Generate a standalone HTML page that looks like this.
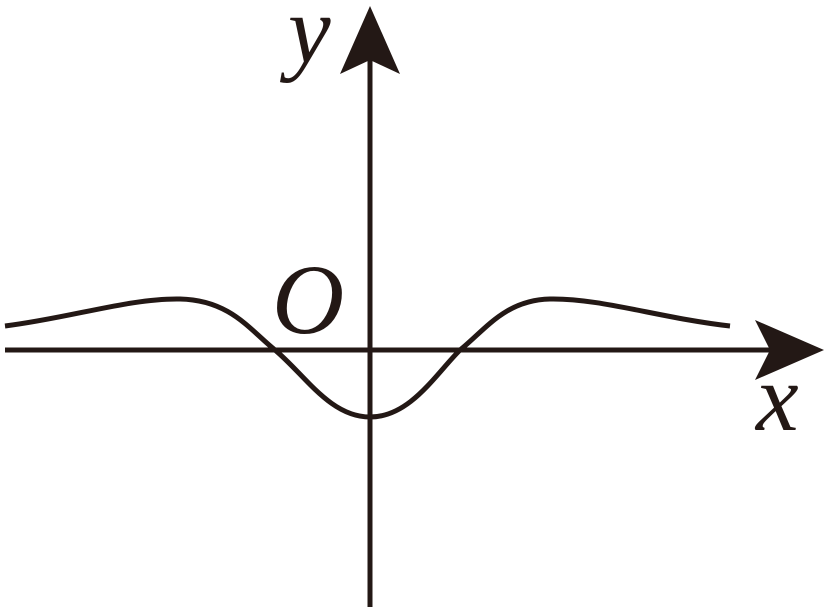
<!DOCTYPE html>
<html><head><style>html,body{margin:0;padding:0;background:#fff}svg{display:block}</style></head><body>
<svg width="826" height="614" viewBox="0 0 826 614" xmlns="http://www.w3.org/2000/svg">
<g stroke="#231815" stroke-width="5" fill="none">
<line x1="370" y1="60" x2="370" y2="607"/>
<line x1="5" y1="350" x2="770" y2="350"/>
<path d="M5,326 C70,318 130,298 180,299 C230,300 250,330 275,350 C305,375 330,417 370,417 C410,417 435,375 460,350 C485,330 505,300 550,299 C600,298 660,318 730,326"/>
</g>
<path d="M370,6 L400,74 L370,60 L340,74 Z" fill="#231815"/>
<path d="M824,350 L755,320 L770,350 L755,380 Z" fill="#231815"/>
<g font-family="'Liberation Serif',serif" font-style="italic" fill="#231815">
<text x="288" y="62" font-size="96">y</text>
<text x="272" y="333" font-size="100">O</text>
<text x="756" y="430" font-size="96">x</text>
</g>
</svg>
</body></html>
